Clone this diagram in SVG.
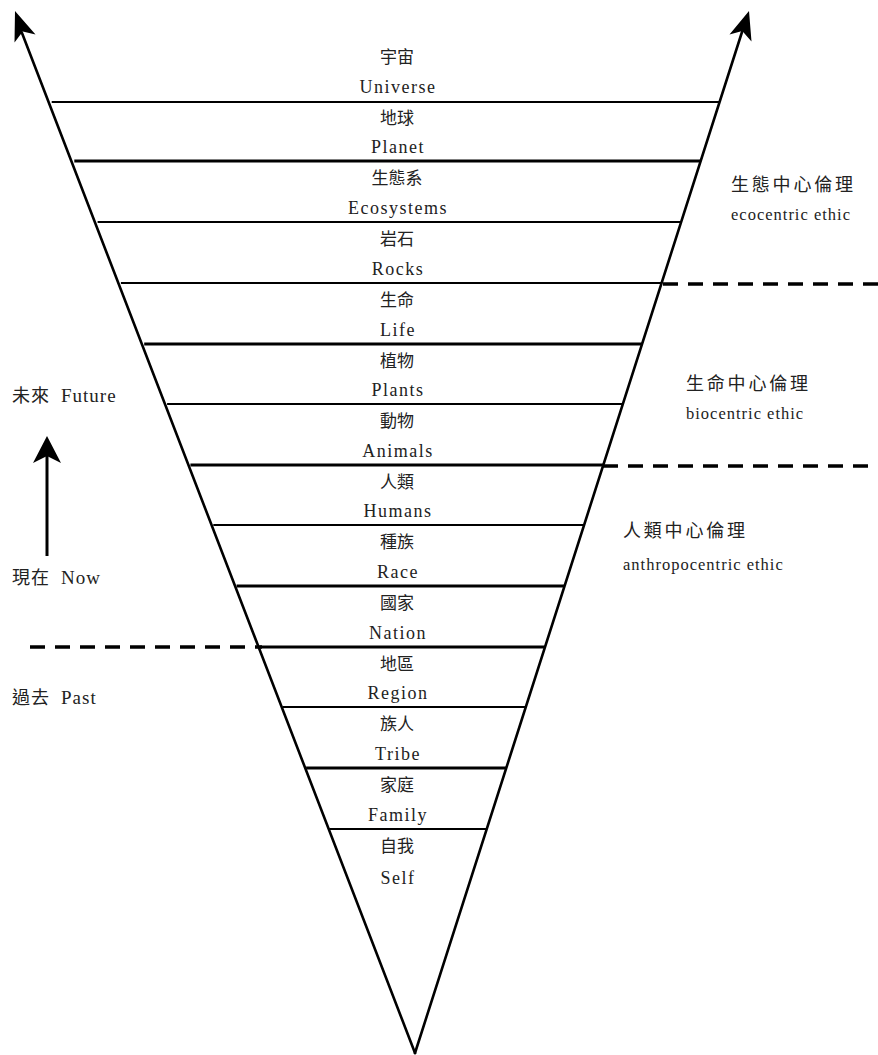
<svg xmlns="http://www.w3.org/2000/svg" width="878" height="1055" viewBox="0 0 878 1055">
<style>
.bg{fill:#ffffff}
.edge{stroke:#000;stroke-width:2.6;fill:none;stroke-linecap:round}
.rung{stroke:#000;stroke-width:2.2}
.rung.t{stroke-width:3}
.dash{stroke:#000;stroke-width:3.5;stroke-dasharray:15 10}
.head{fill:#000}
.cjk{font-family:"Noto Sans CJK TC","Noto Sans CJK SC",sans-serif;font-size:17px;fill:#222;text-anchor:middle}
.en{font-family:"Liberation Serif",serif;font-size:18px;fill:#222;text-anchor:middle;letter-spacing:1.5px}
.side-cjk{font-family:"Noto Sans CJK TC","Noto Sans CJK SC",sans-serif;font-size:18px;fill:#222;letter-spacing:2.8px}
.side-en{font-family:"Liberation Serif",serif;font-size:16.5px;fill:#222;letter-spacing:1px}
.tc{font-family:"Noto Sans CJK TC","Noto Sans CJK SC",sans-serif;font-size:18px;fill:#222;letter-spacing:1px}
.te{font-family:"Liberation Serif",serif;font-size:19px;fill:#222;letter-spacing:1px}
</style>
<rect class="bg" x="0" y="0" width="878" height="1055"/>

<g id="connectors">
  <line class="edge" x1="415" y1="1053" x2="22" y2="33"/>
  <line class="edge" x1="415" y1="1053" x2="742" y2="32"/>
  <polygon class="head" points="15,11 35.5,34.5 22.8,31.5 14.5,42.5"/>
  <polygon class="head" points="749,11 751.5,41.5 742.3,31 729.5,34.5"/>
  <line class="rung" x1="51.7" y1="102" x2="719.3" y2="102"/>
  <line class="rung t" x1="74.3" y1="161" x2="700.4" y2="161"/>
  <line class="rung" x1="97.6" y1="222" x2="680.9" y2="222"/>
  <line class="rung" x1="120.9" y1="283" x2="661.4" y2="283"/>
  <line class="rung t" x1="144.2" y1="344" x2="641.9" y2="344"/>
  <line class="rung" x1="167.1" y1="404" x2="622.7" y2="404"/>
  <line class="rung t" x1="190.4" y1="465" x2="603.2" y2="465"/>
  <line class="rung" x1="213.3" y1="525" x2="584" y2="525"/>
  <line class="rung t" x1="236.6" y1="586" x2="564.4" y2="586"/>
  <line class="rung t" x1="259.9" y1="647" x2="544.9" y2="647"/>
  <line class="rung" x1="282.8" y1="707" x2="525.7" y2="707"/>
  <line class="rung t" x1="306.1" y1="768" x2="506.2" y2="768"/>
  <line class="rung" x1="329.4" y1="829" x2="486.7" y2="829"/>
  <line class="dash" x1="663" y1="284" x2="878" y2="284"/>
  <line class="dash" x1="603" y1="466" x2="878" y2="466"/>
  <line class="dash" x1="30" y1="647" x2="262" y2="647"/>
  <line x1="47" y1="456" x2="47" y2="556" stroke="#000" stroke-width="3"/>
  <polygon class="head" points="47,436 61,463 47,456 33,463"/>
</g>

<g id="n-universe"><text class="cjk" x="397" y="63">宇宙</text><text class="en" x="398" y="93">Universe</text></g>
<g id="n-planet"><text class="cjk" x="397" y="124">地球</text><text class="en" x="398" y="153">Planet</text></g>
<g id="n-ecosystems"><text class="cjk" x="397" y="184">生態系</text><text class="en" x="398" y="214">Ecosystems</text></g>
<g id="n-rocks"><text class="cjk" x="397" y="245">岩石</text><text class="en" x="398" y="275">Rocks</text></g>
<g id="n-life"><text class="cjk" x="397" y="306">生命</text><text class="en" x="398" y="336">Life</text></g>
<g id="n-plants"><text class="cjk" x="397" y="367">植物</text><text class="en" x="398" y="396">Plants</text></g>
<g id="n-animals"><text class="cjk" x="397" y="427">動物</text><text class="en" x="398" y="457">Animals</text></g>
<g id="n-humans"><text class="cjk" x="397" y="488">人類</text><text class="en" x="398" y="517">Humans</text></g>
<g id="n-race"><text class="cjk" x="397" y="548">種族</text><text class="en" x="398" y="578">Race</text></g>
<g id="n-nation"><text class="cjk" x="397" y="609">國家</text><text class="en" x="398" y="639">Nation</text></g>
<g id="n-region"><text class="cjk" x="397" y="670">地區</text><text class="en" x="398" y="699">Region</text></g>
<g id="n-tribe"><text class="cjk" x="397" y="730">族人</text><text class="en" x="398" y="760">Tribe</text></g>
<g id="n-family"><text class="cjk" x="397" y="791">家庭</text><text class="en" x="398" y="821">Family</text></g>
<g id="n-self"><text class="cjk" x="397" y="852">自我</text><text class="en" x="398" y="884">Self</text></g>

<g id="n-ecocentric"><text class="side-cjk" x="731" y="191">生態中心倫理</text><text class="side-en" x="731" y="220">ecocentric ethic</text></g>
<g id="n-biocentric"><text class="side-cjk" x="686" y="390">生命中心倫理</text><text class="side-en" x="686" y="419">biocentric ethic</text></g>
<g id="n-anthropocentric"><text class="side-cjk" x="623" y="537">人類中心倫理</text><text class="side-en" x="623" y="570">anthropocentric ethic</text></g>

<g id="n-future"><text class="tc" x="12" y="402">未來</text><text class="te" x="61" y="402">Future</text></g>
<g id="n-now"><text class="tc" x="12" y="584">現在</text><text class="te" x="61" y="584">Now</text></g>
<g id="n-past"><text class="tc" x="12" y="704">過去</text><text class="te" x="61" y="704">Past</text></g>
</svg>
